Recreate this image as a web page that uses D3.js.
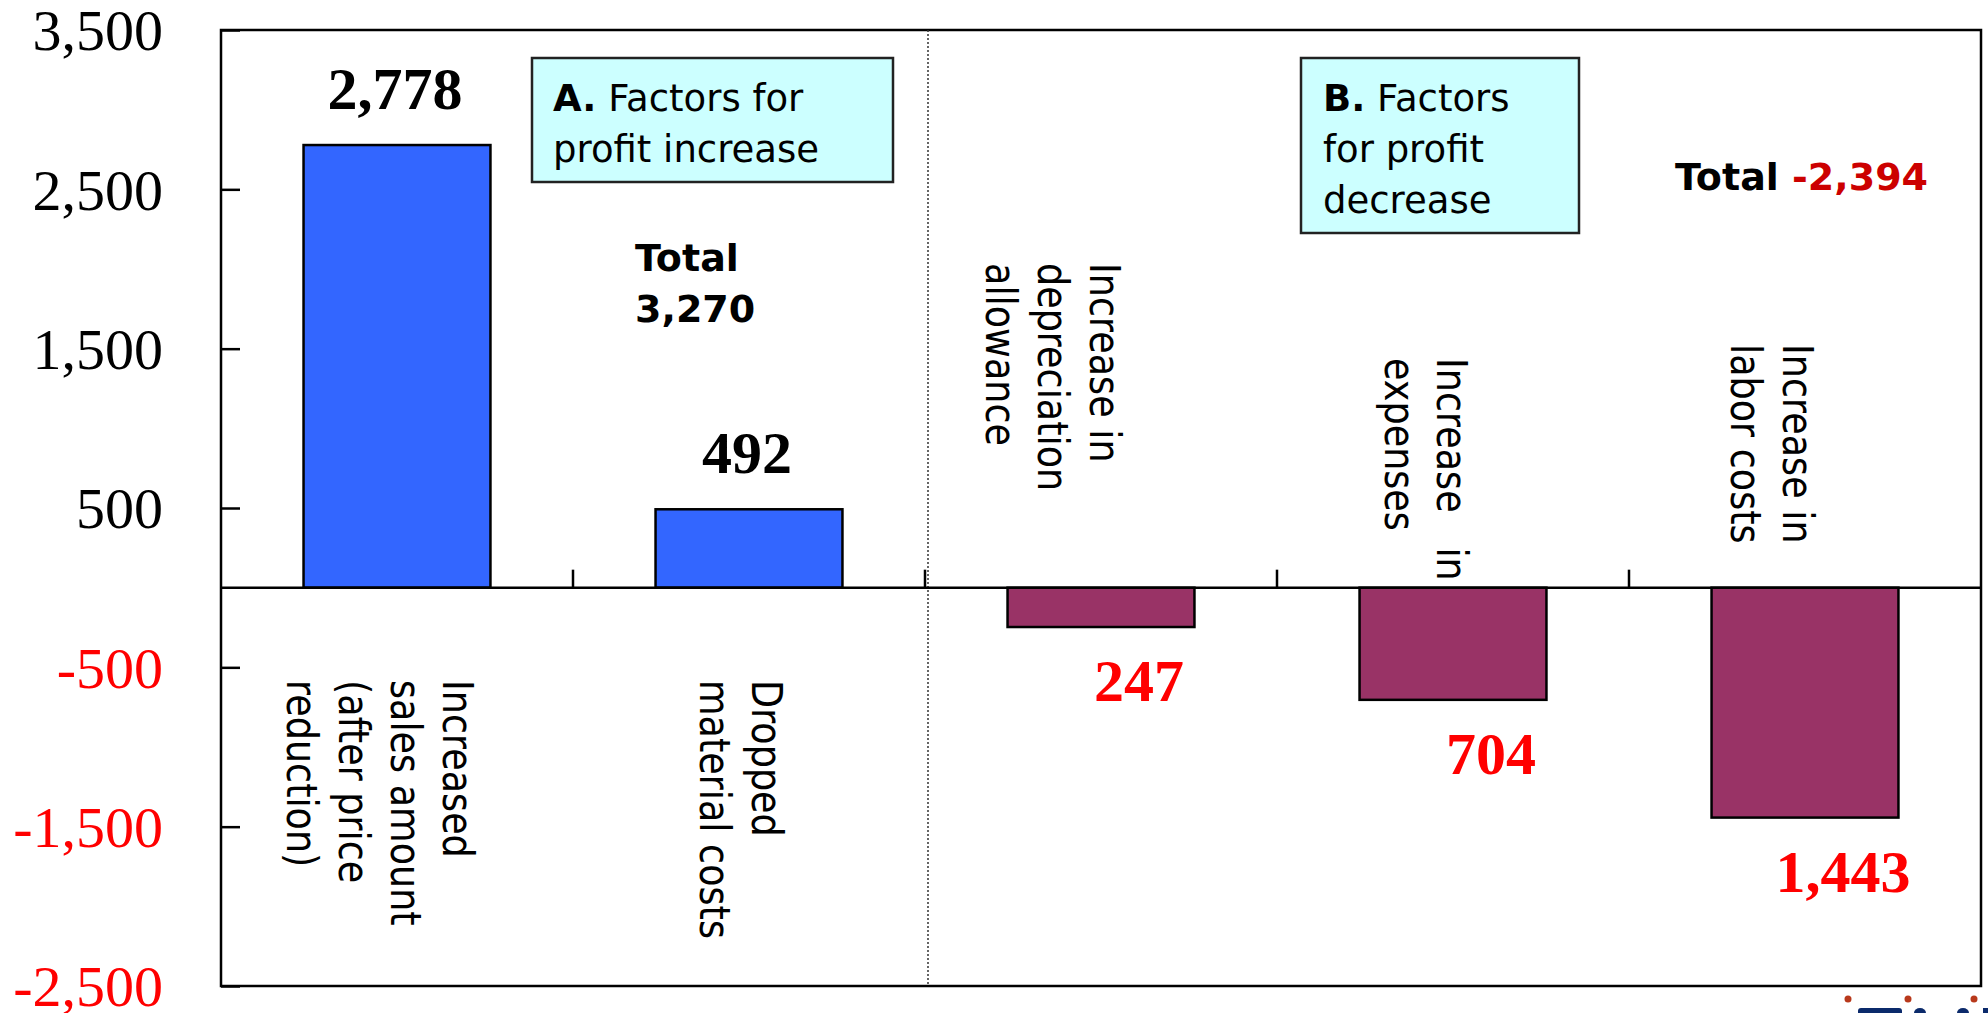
<!DOCTYPE html>
<html>
<head>
<meta charset="utf-8">
<script src="https://cdn.jsdelivr.net/npm/d3@7"></script>
<style>
  html, body { margin: 0; padding: 0; background: #ffffff; }
  svg { display: block; }
</style>
</head>
<body>
<svg id="chart" width="1988" height="1013"></svg>
<script>
// ---------------- data ----------------
const categories = ["Increased sales amount", "Dropped material costs", "Increase in depreciation allowance", "Increase in expenses", "Increase in labor costs"];
const categoryLines = [
  ["Increased", "sales amount", "(after price", "reduction)"],
  ["Dropped", "material costs"],
  ["Increase in", "depreciation", "allowance"],
  ["Increase\u00A0\u00A0 in", "expenses"],
  ["Increase in", "labor costs"]
];
const values = [2778, 492, -247, -704, -1443];
const valueLabels = ["2,778", "492", "247", "704", "1,443"];
const yTickValues = [3500, 2500, 1500, 500, -500, -1500, -2500];
const yTickLabels = ["3,500", "2,500", "1,500", "500", "-500", "-1,500", "-2,500"];
const boxALines = [["A.", " Factors for"], ["", "profit increase"]];
const boxBLines = [["B.", " Factors"], ["", "for profit"], ["", "decrease"]];
const totalA = ["Total", "3,270"];
const totalB = ["Total", "-2,394"];

// ---------------- layout ----------------
const plot = { left: 221, right: 1981, top: 30, bottom: 986 };
const serif = "'Times New Roman', 'Liberation Serif', serif";
const sans = "Tahoma, 'DejaVu Sans', sans-serif";
// placement of rotated category text (first baseline shift from band centre, start y)
const labelShift = [46, 3, -11, -16, -22];
const labelStartY = [680, 680, 263, 358, 344];

const svg = d3.select("#chart");

const y = d3.scaleLinear().domain([-2500, 3500]).range([plot.bottom, plot.top]);
const x = d3.scaleBand().domain(categories).range([plot.left, plot.right])
  .paddingInner(0.469).paddingOuter(0.2345);
const step = x.step();

// plot frame
svg.append("rect")
  .attr("x", plot.left).attr("y", plot.top)
  .attr("width", plot.right - plot.left).attr("height", plot.bottom - plot.top)
  .attr("fill", "#ffffff").attr("stroke", "#000").attr("stroke-width", 2.5);

// dotted divider between A and B groups
const divX = x(categories[2]) - step * x.paddingInner() / 2 + 3;
svg.append("line")
  .attr("x1", divX).attr("x2", divX).attr("y1", plot.top).attr("y2", plot.bottom)
  .attr("stroke", "#333").attr("stroke-width", 1.5).attr("stroke-dasharray", "2,2");

// y axis (ticks pointing inward)
const yAxis = d3.axisRight(y).tickValues(yTickValues).tickSize(19).tickFormat("");
const gy = svg.append("g").attr("transform", `translate(${plot.left},0)`).call(yAxis);
gy.select(".domain").remove();
gy.selectAll(".tick line").attr("stroke", "#000").attr("stroke-width", 2.5);

svg.append("g").selectAll("text").data(yTickValues).join("text")
  .attr("x", plot.left - 58)
  .attr("y", d => y(d))
  .attr("dy", "0.35em")
  .attr("text-anchor", "end")
  .attr("font-family", serif)
  .attr("font-size", 58)
  .attr("fill", d => d < 0 ? "#ff0000" : "#000000")
  .text((d, i) => yTickLabels[i]);

// bars
svg.append("g").selectAll("rect").data(values).join("rect")
  .attr("x", (d, i) => x(categories[i]))
  .attr("width", x.bandwidth())
  .attr("y", d => y(Math.max(0, d)))
  .attr("height", d => Math.abs(y(d) - y(0)))
  .attr("fill", d => d >= 0 ? "#3366ff" : "#993366")
  .attr("stroke", "#000").attr("stroke-width", 2.5);

// zero line with category ticks
svg.append("line")
  .attr("x1", plot.left).attr("x2", plot.right)
  .attr("y1", y(0)).attr("y2", y(0))
  .attr("stroke", "#000").attr("stroke-width", 2.5);
const boundaries = categories.slice(1).map(c => x(c) - step * x.paddingInner() / 2);
svg.append("g").selectAll("line").data(boundaries).join("line")
  .attr("x1", d => d).attr("x2", d => d)
  .attr("y1", y(0)).attr("y2", y(0) - 18)
  .attr("stroke", "#000").attr("stroke-width", 2.5);

// value labels
svg.append("g").selectAll("text").data(values).join("text")
  .attr("x", (d, i) => x(categories[i]) + x.bandwidth() / 2 + (d >= 0 ? -2 : 38))
  .attr("y", d => d >= 0 ? y(d) - 36 : y(d) + 74)
  .attr("text-anchor", "middle")
  .attr("font-family", serif)
  .attr("font-weight", "bold")
  .attr("font-size", 60)
  .attr("fill", d => d >= 0 ? "#000000" : "#ff0000")
  .text((d, i) => valueLabels[i]);

// rotated category labels
categories.forEach((c, i) => {
  const cx = x(c) + x.bandwidth() / 2 + labelShift[i];
  const t = svg.append("text")
    .attr("transform", `translate(${cx},${labelStartY[i]}) rotate(90) scale(0.87,1)`)
    .attr("font-family", sans)
    .attr("font-size", 42)
    .attr("fill", "#000")
    .style("white-space", "pre");
  categoryLines[i].forEach((line, j) => {
    t.append("tspan").attr("x", 0).attr("y", j * 52).text(line);
  });
});

// annotation boxes
function box(x0, y0, w, h, lines, tx, firstBaseline, lh) {
  svg.append("rect").attr("x", x0).attr("y", y0).attr("width", w).attr("height", h)
    .attr("fill", "#ccffff").attr("stroke", "#222").attr("stroke-width", 2.5);
  const t = svg.append("text").attr("font-family", sans).attr("font-size", 37).attr("fill", "#000")
    .style("white-space", "pre");
  lines.forEach((ln, j) => {
    if (ln[0]) {
      t.append("tspan").attr("x", tx).attr("y", firstBaseline + j * lh).attr("font-weight", "bold").text(ln[0]);
      t.append("tspan").text(ln[1]);
    } else {
      t.append("tspan").attr("x", tx).attr("y", firstBaseline + j * lh).text(ln[1]);
    }
  });
}
box(532, 58, 361, 124, boxALines, 553, 111, 51);
box(1301, 58, 278, 175, boxBLines, 1323, 111, 51);

// totals
const ta = svg.append("text").attr("font-family", sans).attr("font-weight", "bold").attr("font-size", 38).attr("fill", "#000");
ta.append("tspan").attr("x", 635).attr("y", 271).text(totalA[0]);
ta.append("tspan").attr("x", 635).attr("y", 322).text(totalA[1]);

const tb = svg.append("text").attr("font-family", sans).attr("font-weight", "bold").attr("font-size", 38)
  .attr("x", 1675).attr("y", 190);
tb.append("tspan").attr("fill", "#000").text(totalB[0] + " ");
tb.append("tspan").attr("fill", "#cc0000").text(totalB[1]);

// cropped logo fragment at bottom-right
const logo = svg.append("g");
[1848, 1908, 1974].forEach(cx => {
  logo.append("circle").attr("cx", cx).attr("cy", 999).attr("r", 3.5).attr("fill", "#b8391c");
});
logo.append("rect").attr("x", 1858).attr("y", 1008).attr("width", 44).attr("height", 10).attr("rx", 3).attr("fill", "#0b2a6b");
logo.append("ellipse").attr("cx", 1920).attr("cy", 1013).attr("rx", 6).attr("ry", 5).attr("fill", "#0b2a6b");
logo.append("ellipse").attr("cx", 1963).attr("cy", 1013).attr("rx", 6).attr("ry", 5).attr("fill", "#0b2a6b");
logo.append("rect").attr("x", 1983).attr("y", 1008).attr("width", 5).attr("height", 6).attr("fill", "#0b2a6b");
</script>
</body>
</html>
